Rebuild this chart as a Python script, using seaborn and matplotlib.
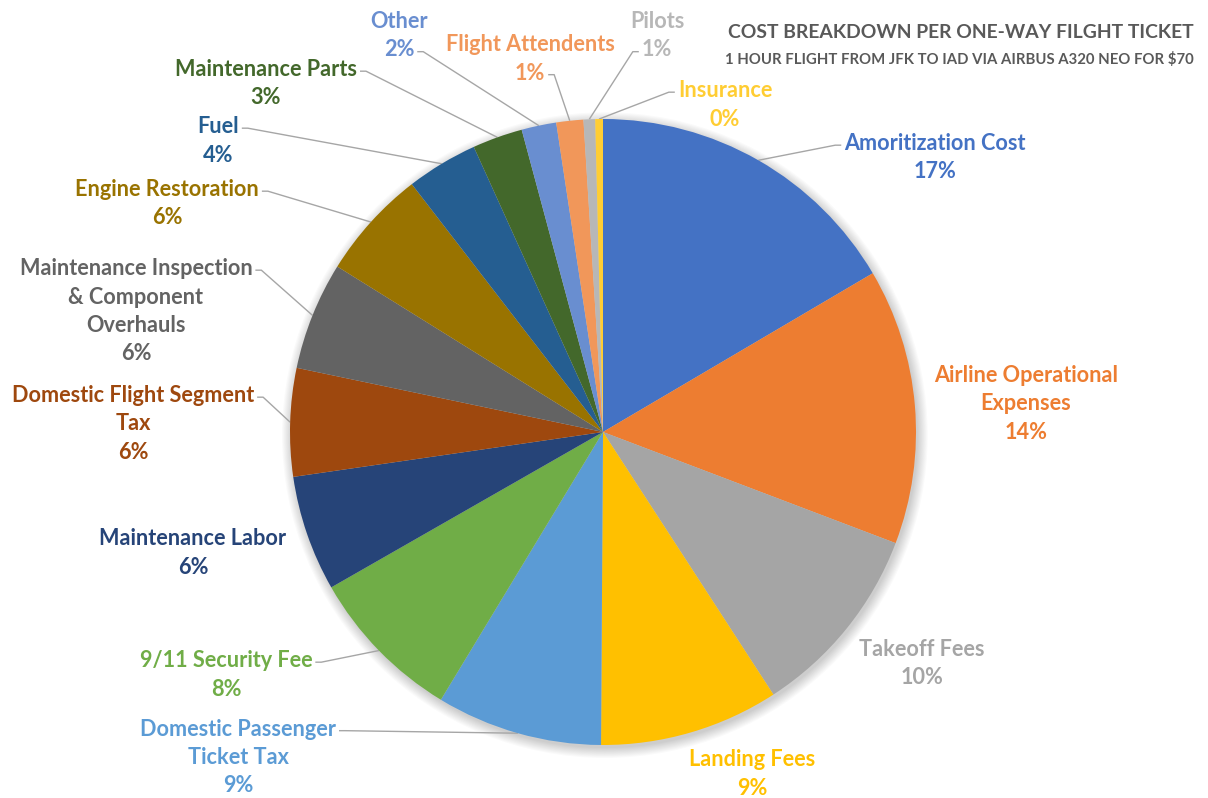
import matplotlib
matplotlib.use("Agg")
import matplotlib.pyplot as plt
from matplotlib.patches import Circle
import numpy as np
import seaborn as sns

sns.set_style("white")
plt.rcParams["font.family"] = ["Lato", "DejaVu Sans"]

# Cost components of a $70 one-way ticket (share of fare, %)
categories = [
    "Amoritization Cost", "Airline Operational Expenses", "Takeoff Fees",
    "Landing Fees", "Domestic Passenger Ticket Tax", "9/11 Security Fee",
    "Maintenance Labor", "Domestic Flight Segment Tax",
    "Maintenance Inspection & Component Overhauls", "Engine Restoration",
    "Fuel", "Maintenance Parts", "Other", "Flight Attendents", "Pilots",
    "Insurance",
]
shares = [16.6, 14.3, 10.1, 9.3, 8.6, 8.1, 6.0, 5.6, 5.6, 5.7,
          3.7, 2.6, 1.8, 1.4, 0.6, 0.4]
palette = sns.color_palette([
    "#4472C4", "#ED7D31", "#A5A5A5", "#FFC000", "#5B9BD5", "#70AD47",
    "#264478", "#9E480E", "#636363", "#997300", "#255E91", "#43682B",
    "#698ED0", "#F1975A", "#B7B7B7", "#FFCD33",
])
# label text broken into lines as displayed
label_lines = [
    ["Amoritization Cost"], ["Airline Operational", "Expenses"], ["Takeoff Fees"],
    ["Landing Fees"], ["Domestic Passenger", "Ticket Tax"], ["9/11 Security Fee"],
    ["Maintenance Labor"], ["Domestic Flight Segment", "Tax"],
    ["Maintenance Inspection", "& Component", "Overhauls"], ["Engine Restoration"],
    ["Fuel"], ["Maintenance Parts"], ["Other"], ["Flight Attendents"], ["Pilots"],
    ["Insurance"],
]
title = "COST BREAKDOWN PER ONE-WAY FILGHT TICKET"
subtitle = "1 HOUR FLIGHT FROM JFK TO IAD VIA AIRBUS A320 NEO FOR $70"

W, H = 1208, 798
CX, CY, R = 603, 432, 313   # pie centre and radius in pixels

# label layout: centre x / first-line y in pixels, leader (line index, side)
label_pos = [
    (935, 143.5, (0, "l")), (1026, 375.5, None), (922, 649.5, None),
    (752, 760, None), (238, 729, (0, "r")), (226, 660.5, (0, "r")),
    (193, 538.5, None), (133, 395.5, (0, "r")), (136, 268.5, (0, "r")),
    (167, 189.5, (0, "r")), (218, 126.5, (0, "r")), (266, 69.5, (0, "r")),
    (399, 21.5, (1, "r")), (530, 44.5, (1, "r")), (657, 21.5, (1, "l")),
    (725, 90.5, (0, "l")),
]
LINE_H = 28.5
LABEL_SIZE = 15.6


def px(x, y):
    return (x - CX) / R, (CY - y) / R


fig = plt.figure(figsize=(W / 100, H / 100), dpi=100)
ax = fig.add_axes([0, 0, 1, 1])

# soft drop shadow under the pie
for i in range(10):
    ax.add_patch(Circle((0.006, -0.010), 1.0 + 0.0035 * i, color="black",
                        alpha=0.018, lw=0, zorder=0))

wedges, _ = ax.pie(shares, colors=palette, startangle=90, counterclock=False,
                   radius=1.0, center=(0, 0), wedgeprops=dict(linewidth=0))
for w in wedges:
    w.set_zorder(2)

ax.set_xlim(-CX / R, (W - CX) / R)
ax.set_ylim(-(H - CY) / R, CY / R)
ax.set_aspect("auto")
ax.axis("off")

total = sum(shares)
texts = []
for lines, share, col, (lx, ly, _) in zip(label_lines, shares, palette, label_pos):
    pct = f"{round(share / total * 100):.0f}%"
    items = []
    for k, line in enumerate(lines + [pct]):
        tx, ty = px(lx, ly + k * LINE_H)
        items.append(ax.text(tx, ty, line, ha="center", va="center",
                             fontsize=LABEL_SIZE, fontweight="bold", color=col,
                             zorder=5))
    texts.append(items)

# title block, right-aligned in the upper right corner
tx, ty = px(1194, 33)
t1 = ax.text(tx, ty, title, ha="right", va="center", fontsize=15,
             fontweight="bold", color="#595959")
tx, ty = px(1194, 59)
t2 = ax.text(tx, ty, subtitle, ha="right", va="center", fontsize=11,
             fontweight="bold", color="#595959")

fig.canvas.draw()
renderer = fig.canvas.get_renderer()
# both title lines span the same width
for t in (t1, t2):
    w = t.get_window_extent(renderer).width
    t.set_fontsize(t.get_fontsize() * 468 / w)

fig.canvas.draw()
inv = ax.transData.inverted()

# leader lines from label to the middle of each slice's outer edge
cum = np.cumsum([0] + shares[:-1])
for items, share, start, (_, _, lead) in zip(texts, shares, cum, label_pos):
    if lead is None:
        continue
    idx, side = lead
    bb = items[idx].get_window_extent(renderer)
    y_disp = bb.y0 + bb.height * 0.42
    x_disp = bb.x1 + 3 if side == "r" else bb.x0 - 3
    ax_, ay_ = inv.transform((x_disp, y_disp))
    step = 6 / R if side == "r" else -6 / R
    mid = np.deg2rad(90 - (start + share / 2) / total * 360)
    ex, ey = np.cos(mid), np.sin(mid)
    ax.plot([ax_, ax_ + step, ex], [ay_, ay_, ey], color="#A6A6A6", lw=1.0,
            zorder=1, solid_capstyle="butt")

fig.savefig("out.png", dpi=100, facecolor="white")
